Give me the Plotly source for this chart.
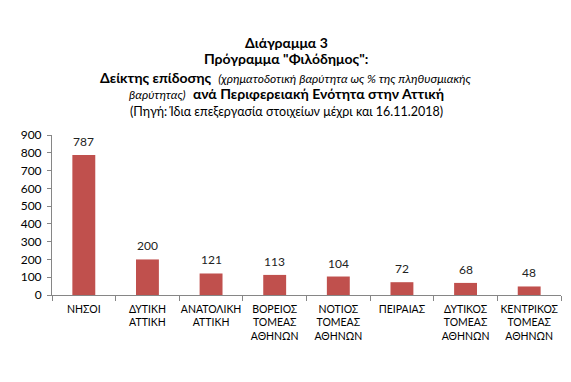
import plotly.graph_objects as go

categories = ["ΝΗΣΟΙ", "ΔΥΤΙΚΗ<br>ΑΤΤΙΚΗ", "ΑΝΑΤΟΛΙΚΗ<br>ΑΤΤΙΚΗ", "ΒΟΡΕΙΟΣ<br>ΤΟΜΕΑΣ<br>ΑΘΗΝΩΝ",
              "ΝΟΤΙΟΣ<br>ΤΟΜΕΑΣ<br>ΑΘΗΝΩΝ", "ΠΕΙΡΑΙΑΣ", "ΔΥΤΙΚΟΣ<br>ΤΟΜΕΑΣ<br>ΑΘΗΝΩΝ",
              "ΚΕΝΤΡΙΚΟΣ<br>ΤΟΜΕΑΣ<br>ΑΘΗΝΩΝ"]
values = [787, 200, 121, 113, 104, 72, 68, 48]
y_ticks = [0, 100, 200, 300, 400, 500, 600, 700, 800, 900]

FONT = "Lato, Noto Sans, sans-serif"
OFF = 8  # default page body margin
W, H = 571 - OFF, 382 - OFF
ML, MR, MT, MB = 52 - OFF, 10, 135 - OFF, 87
PH = H - MT - MB
PW = W - ML - MR

fig = go.Figure(go.Bar(
    x=categories, y=values, marker_color="#C0504D", marker_line_width=0,
    hoverinfo="skip"))

for c, v in zip(categories, values):
    fig.add_annotation(x=c, y=v, text=str(v), showarrow=False, yanchor="bottom",
                       yshift=4, font=dict(size=12, color="#222", family=FONT))

def py(ypix):
    return (H - MB - (ypix - OFF)) / PH

cx = (286 - OFF - ML) / PW
title_lines = [
    (42, "<b>Διάγραμμα 3</b>", 14),
    (59, "<b>Πρόγραμμα \"Φιλόδημος\":</b>", 14),
    (77, "<b>Δείκτης επίδοσης</b>  <i><span style='font-size:12px'>(χρηματοδοτική βαρύτητα ως % της πληθυσμιακής</span></i>", 14),
    (94, "<i><span style='font-size:12px'>βαρύτητας)</span></i>  <b>ανά Περιφερειακή Ενότητα στην Αττική</b>", 14),
    (111, "(Πηγή: Ίδια επεξεργασία στοιχείων μέχρι και 16.11.2018)", 12.5),
]
for ypix, txt, sz in title_lines:
    fig.add_annotation(xref="paper", yref="paper", x=cx, y=py(ypix), text=txt,
                       showarrow=False, xanchor="center", yanchor="middle",
                       font=dict(size=sz, color="black", family=FONT))

fig.update_layout(
    width=W, height=H, margin=dict(l=ML, r=MR, t=MT, b=MB, autoexpand=False),
    paper_bgcolor="white", plot_bgcolor="white", showlegend=False,
    bargap=0.64, font=dict(family=FONT, color="black"),
)
fig.update_xaxes(type="category", showline=True, linecolor="#868686", linewidth=1,
                 ticks="outside", tickson="boundaries", ticklen=5, tickcolor="#868686",
                 tickangle=0, automargin=False, ticklabelstandoff=4,
                 tickfont=dict(size=10.5, color="black", family=FONT), showgrid=False)
fig.update_yaxes(range=[0, 900], tickvals=y_ticks, showline=True, linecolor="#868686",
                 linewidth=1, ticks="outside", ticklen=4, tickcolor="#868686",
                 showgrid=False, zeroline=False, automargin=False, ticklabelstandoff=3,
                 tickfont=dict(size=12, color="black", family=FONT))

fig.write_html("out.html")
